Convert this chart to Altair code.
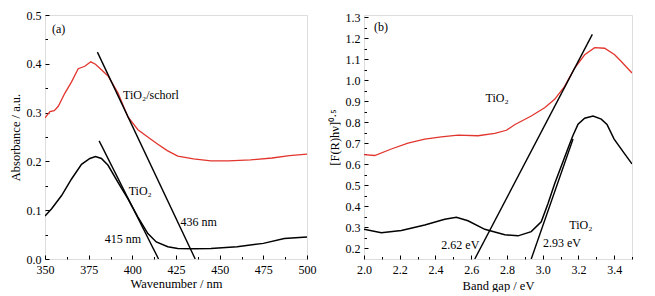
import altair as alt
import pandas as pd

FONT = "Liberation Serif"
RED = "#e2352d"

# ---------------- Panel (a) data ----------------
a_schorl_nm = [350, 352.8, 355.3, 357.6, 361.4, 365.2, 369, 372.8, 376.2, 378.9, 382.3, 386.1,
               391.8, 397.5, 403.2, 410.8, 414.6, 420, 426, 435, 445, 455, 467.7, 480, 490, 500]
a_schorl_abs = [0.289, 0.302, 0.304, 0.313, 0.340, 0.363, 0.390, 0.395, 0.404, 0.399, 0.388, 0.375,
                0.340, 0.291, 0.265, 0.245, 0.235, 0.222, 0.211, 0.205, 0.201, 0.201, 0.203, 0.207, 0.212, 0.215]
a_tio2_nm = [350, 353.8, 359.5, 365.2, 370.9, 375.7, 378.9, 382.3, 386.1, 391.8, 397.5, 403.2,
             408.9, 413.7, 420.3, 426, 435, 445, 460, 475, 487, 500]
a_tio2_abs = [0.088, 0.103, 0.130, 0.164, 0.194, 0.206, 0.210, 0.206, 0.192, 0.157, 0.123, 0.086,
              0.052, 0.035, 0.025, 0.0215, 0.021, 0.0215, 0.025, 0.032, 0.042, 0.045]
a_tan_nm = [380, 436, 381, 415]
a_tan_abs = [0.424, 0.0, 0.242, 0.0]
a_tan_grp = ["schorl", "schorl", "tio2", "tio2"]
a_txt = ["(a)", "TiO\u2082/schorl", "TiO\u2082", "436 nm", "415 nm"]
a_txt_nm = [354, 394.7, 397.9, 427.6, 384.2]
a_txt_abs = [0.472, 0.336, 0.140, 0.076, 0.042]
a_x_major = [350, 375, 400, 425, 450, 475, 500]
a_x_minor = [362.5, 387.5, 412.5, 437.5, 462.5, 487.5]
a_y_major = [0.0, 0.1, 0.2, 0.3, 0.4, 0.5]
a_y_minor = [0.05, 0.15, 0.25, 0.35, 0.45]

# ---------------- Panel (b) data ----------------
b_schorl_e = [2.0, 2.06, 2.153, 2.246, 2.34, 2.433, 2.526, 2.638, 2.732, 2.797, 2.843, 2.936, 3.011,
              3.067, 3.123, 3.179, 3.235, 3.291, 3.347, 3.403, 3.44, 3.5]
b_schorl_v = [0.646, 0.642, 0.673, 0.701, 0.72, 0.731, 0.739, 0.736, 0.747, 0.762, 0.788, 0.83, 0.869,
              0.909, 0.971, 1.058, 1.121, 1.155, 1.152, 1.121, 1.089, 1.034]
b_tio2_e = [2.0, 2.097, 2.209, 2.34, 2.452, 2.517, 2.582, 2.676, 2.788, 2.862, 2.936, 2.992, 3.03,
            3.067, 3.123, 3.151, 3.169, 3.198, 3.235, 3.282, 3.328, 3.36, 3.40, 3.459, 3.5]
b_tio2_v = [0.291, 0.275, 0.285, 0.312, 0.339, 0.348, 0.332, 0.291, 0.265, 0.26, 0.28, 0.327, 0.414,
            0.508, 0.634, 0.697, 0.736, 0.791, 0.819, 0.83, 0.815, 0.79, 0.72, 0.65, 0.602]
b_tan_e = [2.62, 3.278, 2.936, 3.17]
b_tan_v = [0.15, 1.218, 0.15, 0.72]
b_tan_grp = ["schorl", "schorl", "tio2", "tio2"]
b_txt = ["(b)", "TiO\u2082", "TiO\u2082", "2.62 eV", "2.93 eV"]
b_txt_e = [2.056, 2.68, 3.149, 2.433, 3.002]
b_txt_v = [1.254, 0.916, 0.312, 0.217, 0.225]
b_x_major = [2.0, 2.2, 2.4, 2.6, 2.8, 3.0, 3.2, 3.4]
b_x_minor = [2.1, 2.3, 2.5, 2.7, 2.9, 3.1, 3.3, 3.5]
b_y_major = [0.2, 0.3, 0.4, 0.5, 0.6, 0.7, 0.8, 0.9, 1.0, 1.1, 1.2, 1.3]
b_y_minor = [0.25, 0.35, 0.45, 0.55, 0.65, 0.75, 0.85, 0.95, 1.05, 1.15, 1.25]


def major_axis(orient, values, fmt, title, lp, tp):
    return alt.Axis(orient=orient, values=values, format=fmt, title=title, grid=False,
                    domain=False, tickSize=4, offset=-4, tickColor="black", tickWidth=1,
                    labelFont=FONT, labelFontSize=12, labelColor="black", labelPadding=lp,
                    labelFlush=False, labelOverlap=False,
                    titleFont=FONT, titleFontSize=12.5, titleFontWeight="normal",
                    titleColor="black", titlePadding=tp)


def minor_axis(orient, values):
    return alt.Axis(orient=orient, values=values, title=None, grid=False, domain=False,
                    labels=False, tickSize=2.5, offset=-2.5, tickColor="black", tickWidth=1)


def panel(curves, tan, txt, xdom, ydom, xmaj, xmin, ymaj, ymin, xfmt, yfmt,
          xtitle, ytitle, xlp, xtp, ytp, w, h):
    xs = alt.Scale(domain=xdom, nice=False, zero=False)
    ys = alt.Scale(domain=ydom, nice=False, zero=False)
    xa = major_axis("bottom", xmaj, xfmt, xtitle, xlp, xtp)
    ya = major_axis("left", ymaj, yfmt, ytitle, 4, ytp)
    X = alt.X("x:Q", scale=xs, axis=xa)
    Y = alt.Y("y:Q", scale=ys, axis=ya)
    layers = []
    for df, col, sw in curves:
        layers.append(alt.Chart(df).mark_line(color=col, strokeWidth=sw, clip=True)
                      .encode(x=X, y=Y, order="i:Q"))
    layers.append(alt.Chart(tan).mark_line(color="black", strokeWidth=1.4, clip=True)
                  .encode(x=X, y=Y, detail="g:N"))
    layers.append(alt.Chart(txt).mark_text(align="left", baseline="middle", font=FONT,
                                           fontSize=12, color="black")
                  .encode(x=X, y=Y, text="t:N"))
    inner = alt.layer(*layers)
    minor = alt.Chart(curves[0][0]).mark_point(opacity=0).encode(
        x=alt.X("x:Q", scale=xs, axis=minor_axis("bottom", xmin)),
        y=alt.Y("y:Q", scale=ys, axis=minor_axis("left", ymin)))
    return (alt.layer(inner, minor)
            .resolve_axis(x="independent", y="independent")
            .properties(width=w, height=h))


def curve_df(xs, ys):
    return pd.DataFrame({"x": xs, "y": ys, "i": list(range(len(xs)))})


pa = panel(
    [(curve_df(a_schorl_nm, a_schorl_abs), RED, 1.3), (curve_df(a_tio2_nm, a_tio2_abs), "black", 1.5)],
    pd.DataFrame({"x": a_tan_nm, "y": a_tan_abs, "g": a_tan_grp}),
    pd.DataFrame({"x": a_txt_nm, "y": a_txt_abs, "t": a_txt}),
    [350, 500], [0.0, 0.5], a_x_major, a_x_minor, a_y_major, a_y_minor, "d", ".1f",
    "Wavenumber / nm", "Absorbance / a.u.", 5, 2, 4, 262, 244)

pb = panel(
    [(curve_df(b_schorl_e, b_schorl_v), RED, 1.3), (curve_df(b_tio2_e, b_tio2_v), "black", 1.5)],
    pd.DataFrame({"x": b_tan_e, "y": b_tan_v, "g": b_tan_grp}),
    pd.DataFrame({"x": b_txt_e, "y": b_txt_v, "t": b_txt}),
    [2.0, 3.5], [0.15, 1.31], b_x_major, b_x_minor, b_y_major, b_y_minor, ".1f", ".1f",
    "Band gap / eV", "[F(R)h\u03bd]\u2070\u00b7\u2075", 5, 4, 4, 268, 244)

chart = (alt.hconcat(pa, pb, spacing=57, bounds="flush")
         .properties(padding={"left": 0, "top": 0, "right": 0, "bottom": 0})
         .configure_view(stroke="black", strokeWidth=1)
         .configure(background="white"))

chart.save("out.html", embed_options={"renderer": "svg", "actions": False})
